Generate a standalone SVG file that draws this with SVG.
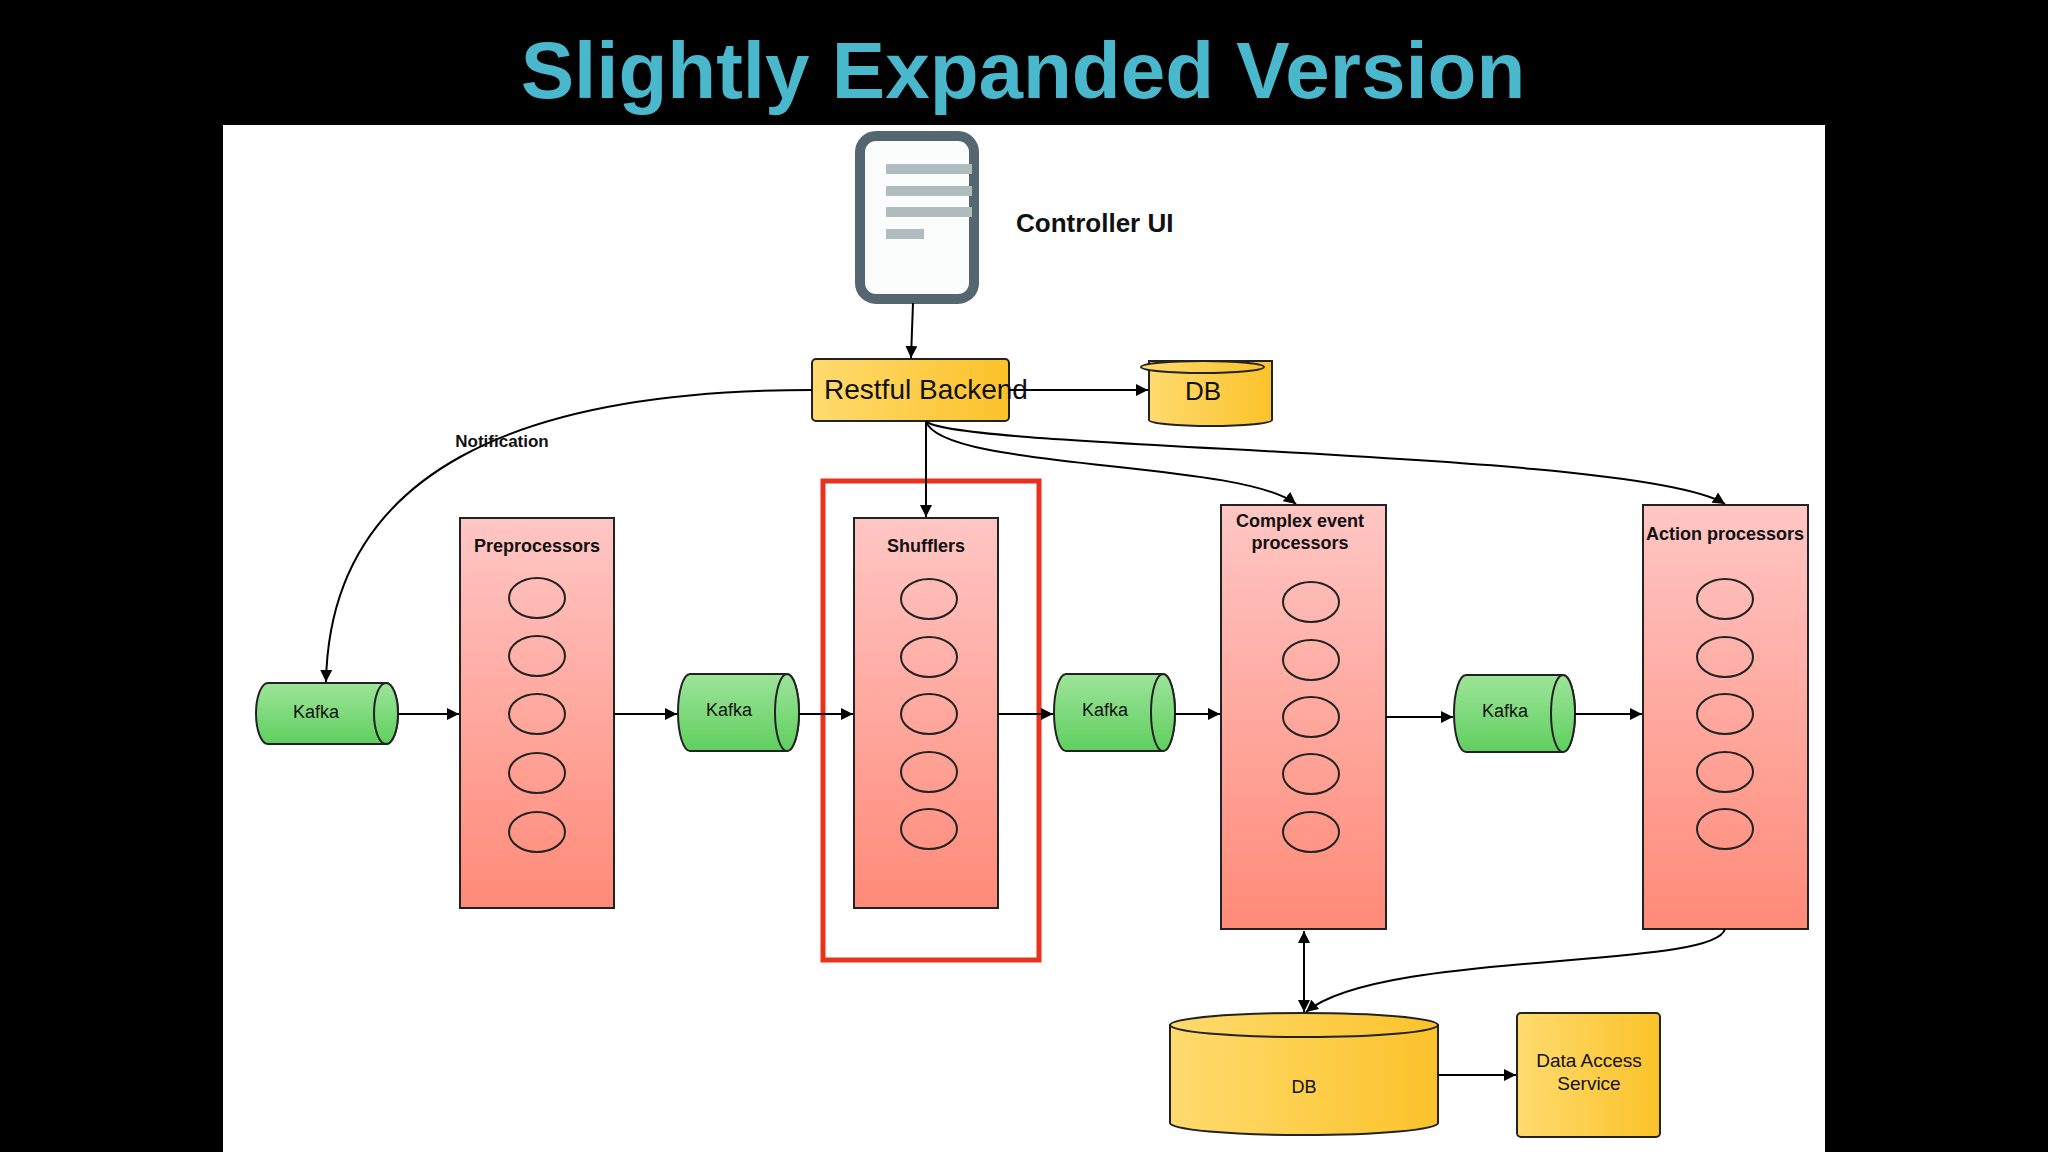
<svg xmlns="http://www.w3.org/2000/svg" width="2048" height="1152" viewBox="0 0 2048 1152">
<defs>
<linearGradient id="red" x1="0" y1="0" x2="0" y2="1"><stop offset="0" stop-color="#ffc6c4"/><stop offset="1" stop-color="#ff8a78"/></linearGradient>
<linearGradient id="grn" x1="0" y1="0" x2="0" y2="1"><stop offset="0" stop-color="#9ee49a"/><stop offset="1" stop-color="#5fcf5f"/></linearGradient>
<linearGradient id="yel" x1="0" y1="0" x2="1" y2="0"><stop offset="0" stop-color="#ffdb6e"/><stop offset="1" stop-color="#fbc22a"/></linearGradient>
<marker id="ar" viewBox="0 0 10 10" refX="10" refY="5" markerWidth="12" markerHeight="12" markerUnits="userSpaceOnUse" orient="auto-start-reverse"><path d="M0,0 L10,5 L0,10 Z" fill="#000"/></marker>
<style>
.t{font-family:"Liberation Sans",Arial,sans-serif;fill:#111}
.b{font-weight:bold}
.proc{fill:url(#red);stroke:#222;stroke-width:2}
.ov{fill:none;stroke:#222;stroke-width:2}
.k{fill:url(#grn);stroke:#222;stroke-width:2}
.y{fill:url(#yel);stroke:#222;stroke-width:2}
.c{fill:none;stroke:#000;stroke-width:2;marker-end:url(#ar)}
</style>
</defs>
<rect width="2048" height="1152" fill="#000"/>
<rect x="223" y="125" width="1602" height="1027" fill="#fff"/>
<text x="1023" y="98" text-anchor="middle" class="t b" style="fill:#4ab8cc;font-size:80px">Slightly Expanded Version</text>

<g id="controller">
<rect x="860" y="136" width="114" height="163" rx="16" fill="#fbfdfd" stroke="#546670" stroke-width="10"/>
<rect x="886" y="164" width="86" height="10" fill="#b1bcbf"/>
<rect x="886" y="186" width="86" height="10" fill="#b1bcbf"/>
<rect x="886" y="207" width="86" height="10" fill="#b1bcbf"/>
<rect x="886" y="229" width="38" height="10" fill="#b1bcbf"/>
<text x="1016" y="232" class="t b" style="font-size:26px">Controller UI</text>
</g>
<g id="restful"><rect x="812" y="359" width="197" height="62" rx="4" class="y"/><text x="926" y="399" text-anchor="middle" class="t" style="font-size:28px">Restful Backend</text></g>
<g id="db1"><path d="M1201,355 L1324,355 L1324,414 A61 6 0 0 1 1201,414 Z" class="y" transform="translate(-52,6)"/><ellipse cx="1210.5" cy="367" rx="61.5" ry="6" class="y" transform="translate(-8,0)"/><text x="1203" y="400" text-anchor="middle" class="t" style="font-size:26px">DB</text></g>

<g id="preprocessors"><rect x="460" y="518" width="154" height="390" class="proc"/><text x="537" y="552" text-anchor="middle" class="t b" style="font-size:18px">Preprocessors</text>
<ellipse cx="537" cy="598" rx="28" ry="20" class="ov"/><ellipse cx="537" cy="656" rx="28" ry="20" class="ov"/><ellipse cx="537" cy="714" rx="28" ry="20" class="ov"/><ellipse cx="537" cy="773" rx="28" ry="20" class="ov"/><ellipse cx="537" cy="832" rx="28" ry="20" class="ov"/></g>
<g id="shufflers"><rect x="854" y="518" width="144" height="390" class="proc"/><text x="926" y="552" text-anchor="middle" class="t b" style="font-size:18px">Shufflers</text>
<ellipse cx="929" cy="599" rx="28" ry="20" class="ov"/><ellipse cx="929" cy="657" rx="28" ry="20" class="ov"/><ellipse cx="929" cy="714" rx="28" ry="20" class="ov"/><ellipse cx="929" cy="772" rx="28" ry="20" class="ov"/><ellipse cx="929" cy="829" rx="28" ry="20" class="ov"/></g>
<g id="highlight"><rect x="823" y="481" width="216" height="479" fill="none" stroke="#e8321e" stroke-width="5"/></g>
<g id="cep"><rect x="1221" y="505" width="165" height="424" class="proc"/><text x="1300" y="527" text-anchor="middle" class="t b" style="font-size:18px">Complex event</text><text x="1300" y="549" text-anchor="middle" class="t b" style="font-size:18px">processors</text>
<ellipse cx="1311" cy="602" rx="28" ry="20" class="ov"/><ellipse cx="1311" cy="660" rx="28" ry="20" class="ov"/><ellipse cx="1311" cy="717" rx="28" ry="20" class="ov"/><ellipse cx="1311" cy="774" rx="28" ry="20" class="ov"/><ellipse cx="1311" cy="832" rx="28" ry="20" class="ov"/></g>
<g id="action"><rect x="1643" y="505" width="165" height="424" class="proc"/><text x="1725" y="540" text-anchor="middle" class="t b" style="font-size:18px">Action processors</text>
<ellipse cx="1725" cy="599" rx="28" ry="20" class="ov"/><ellipse cx="1725" cy="657" rx="28" ry="20" class="ov"/><ellipse cx="1725" cy="714" rx="28" ry="20" class="ov"/><ellipse cx="1725" cy="772" rx="28" ry="20" class="ov"/><ellipse cx="1725" cy="829" rx="28" ry="20" class="ov"/></g>

<g id="kafka1"><path d="M268,683 L386,683 A12 30.5 0 0 1 386,744 L268,744 A12 30.5 0 0 1 268,683 Z" class="k"/><ellipse cx="386" cy="713.5" rx="12" ry="30.5" class="k"/><text x="316" y="718" text-anchor="middle" class="t" style="font-size:18px">Kafka</text></g>
<g id="kafka2"><path d="M690,674 L787,674 A12 38.5 0 0 1 787,751 L690,751 A12 38.5 0 0 1 690,674 Z" class="k"/><ellipse cx="787" cy="712.5" rx="12" ry="38.5" class="k"/><text x="729" y="716" text-anchor="middle" class="t" style="font-size:18px">Kafka</text></g>
<g id="kafka3"><path d="M1066,674 L1163,674 A12 38.5 0 0 1 1163,751 L1066,751 A12 38.5 0 0 1 1066,674 Z" class="k"/><ellipse cx="1163" cy="712.5" rx="12" ry="38.5" class="k"/><text x="1105" y="716" text-anchor="middle" class="t" style="font-size:18px">Kafka</text></g>
<g id="kafka4"><path d="M1466,675 L1563,675 A12 38.5 0 0 1 1563,752 L1466,752 A12 38.5 0 0 1 1466,675 Z" class="k"/><ellipse cx="1563" cy="713.5" rx="12" ry="38.5" class="k"/><text x="1505" y="717" text-anchor="middle" class="t" style="font-size:18px">Kafka</text></g>

<g id="db2"><path d="M1170,1025 L1438,1025 L1438,1123 A134 12 0 0 1 1170,1123 Z" class="y"/><ellipse cx="1304" cy="1025" rx="134" ry="12" class="y"/><text x="1304" y="1093" text-anchor="middle" class="t" style="font-size:18px">DB</text></g>
<g id="das"><rect x="1517" y="1013" width="143" height="124" rx="4" class="y"/><text x="1589" y="1067" text-anchor="middle" class="t" style="font-size:19px">Data Access</text><text x="1589" y="1090" text-anchor="middle" class="t" style="font-size:19px">Service</text></g>

<g id="connectors">
<path d="M913,303 L911,358" class="c"/>
<path d="M1009,390 L1148,390" class="c"/>
<path d="M812,390 C520,390 330,470 326,682" class="c"/>
<text x="502" y="447" text-anchor="middle" class="t b" style="font-size:17px">Notification</text>
<path d="M926,421 L926,517" class="c"/>
<path d="M926,421 C940,470 1240,460 1296,504" class="c"/>
<path d="M926,421 C950,450 1640,450 1725,504" class="c"/>
<path d="M398,714 L459,714" class="c"/>
<path d="M614,714 L677,714" class="c"/>
<path d="M799,714 L853,714" class="c"/>
<path d="M998,714 L1053,714" class="c"/>
<path d="M1175,714 L1220,714" class="c"/>
<path d="M1386,717 L1453,717" class="c"/>
<path d="M1575,714 L1642,714" class="c"/>
<path d="M1304,931 L1304,1012" class="c" marker-start="url(#ar)"/>
<path d="M1725,929 C1715,970 1380,950 1306,1012" class="c"/>
<path d="M1438,1075 L1516,1075" class="c"/>
</g>
</svg>
